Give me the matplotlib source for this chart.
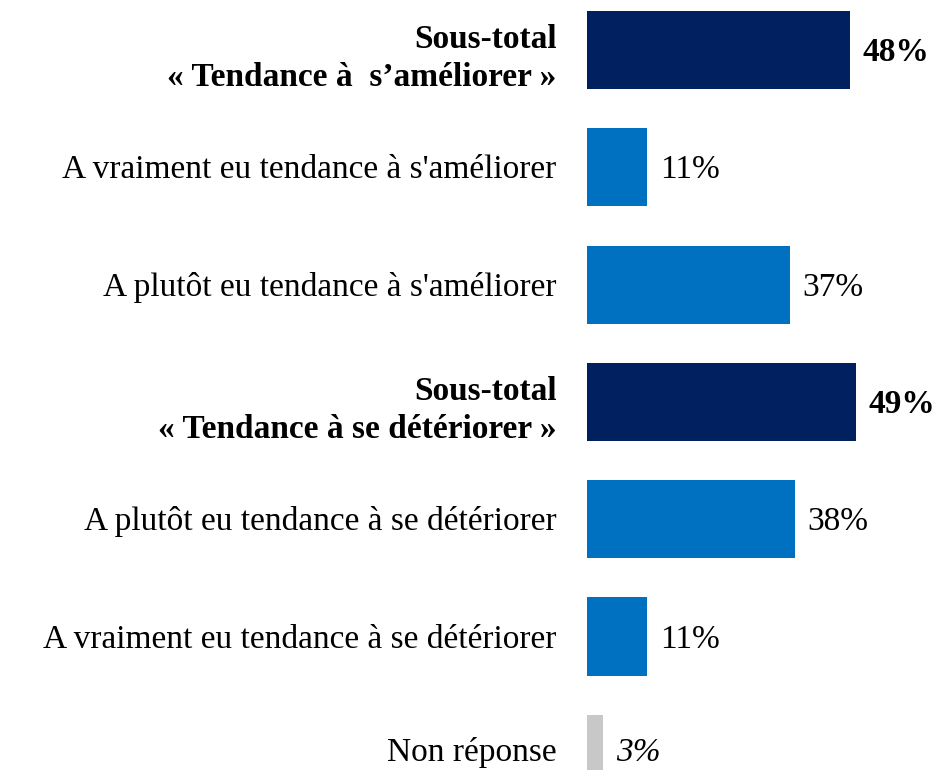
import matplotlib.pyplot as plt

labels = [
    "Sous-total\n« Tendance à  s\u2019améliorer »",
    "A vraiment eu tendance à s'améliorer",
    "A plutôt eu tendance à s'améliorer",
    "Sous-total\n« Tendance à se détériorer »",
    "A plutôt eu tendance à se détériorer",
    "A vraiment eu tendance à se détériorer",
    "Non réponse",
]
values = [48, 11, 37, 49, 38, 11, 3]
kinds = ["total", "detail", "detail", "total", "detail", "detail", "nr"]

colors = {"total": "#002060", "detail": "#0070C0", "nr": "#C8C8C8"}
label_dy = {"total": -6, "detail": -2, "nr": 1}

plt.rcParams['font.family'] = ['Liberation Serif', 'DejaVu Serif']

fig = plt.figure(figsize=(9.34, 7.7), dpi=100)
ax = fig.add_axes([587 / 934, 0, 1 - 587 / 934, 1])

ypos = list(range(len(values)))
ax.barh(ypos, values, height=0.665, color=[colors[k] for k in kinds])

ax.set_xlim(0, (934 - 587) / 5.48)
ax.set_ylim((770 - 50) / 117.3, -50 / 117.3)

# category labels, right-aligned left of the bars
for y, lab, k in zip(ypos, labels, kinds):
    ax.annotate(lab, (0, y), xytext=(-22, label_dy[k]), textcoords='offset points',
                va='center', ha='right', fontsize=24, linespacing=1.3,
                fontweight='bold' if k == "total" else 'normal',
                annotation_clip=False)

# value labels
for y, v, k in zip(ypos, values, kinds):
    dy = 1 if k == "nr" else -2
    ax.annotate(f"{v}%", (v, y), xytext=(9, dy), textcoords='offset points',
                va='center', ha='left', fontsize=24,
                fontweight='bold' if k == "total" else 'normal',
                fontstyle='italic' if k == "nr" else 'normal',
                annotation_clip=False)

ax.set_xticks([])
ax.set_yticks([])
for s in ax.spines.values():
    s.set_visible(False)

fig.savefig("out.png", dpi=100)
